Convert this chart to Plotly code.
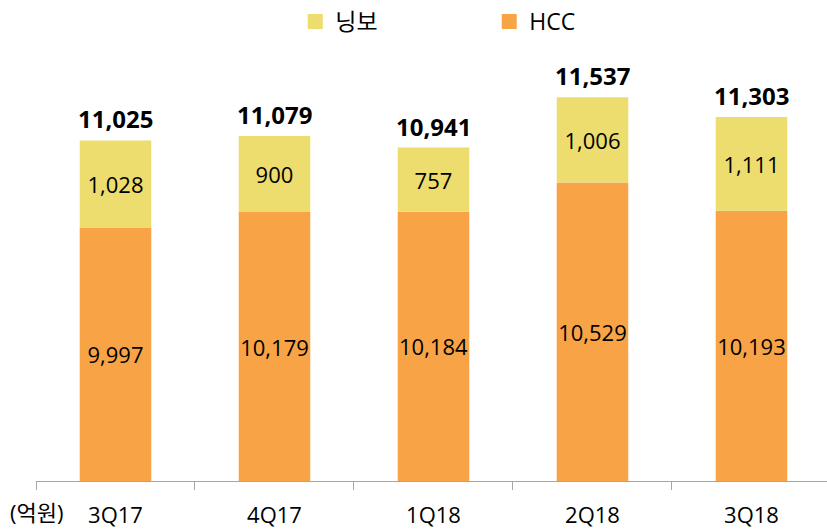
import plotly.graph_objects as go

categories = ["3Q17", "4Q17", "1Q18", "2Q18", "3Q18"]
hcc = [9997, 10179, 10184, 10529, 10193]
ningbo = [1028, 900, 757, 1006, 1111]
totals = [11025, 11079, 10941, 11537, 11303]

ORANGE = "#F8A446"
YELLOW = "#EDDC6E"
FONT = "Open Sans, Noto Sans CJK KR, sans-serif"

fig = go.Figure()
fig.add_trace(go.Bar(
    x=categories, y=[v - 7000 for v in hcc], base=7000, name="HCC", showlegend=False,
    marker=dict(color=ORANGE, line=dict(width=0)),
    text=[f"{v:,}" for v in hcc], textposition="inside", insidetextanchor="middle",
    constraintext="none", textangle=0, textfont=dict(size=22, color="#000", family=FONT),
    width=0.45, hoverinfo="skip"))
fig.add_trace(go.Bar(
    x=categories, y=ningbo, base=hcc, name="닝보", showlegend=False,
    marker=dict(color=YELLOW, line=dict(width=0)),
    text=[f"{v:,}" for v in ningbo], textposition="inside", insidetextanchor="middle",
    constraintext="none", textangle=0, textfont=dict(size=22, color="#000", family=FONT),
    width=0.45, hoverinfo="skip"))

# legend entries with larger square swatches
fig.add_trace(go.Scatter(x=[None], y=[None], mode="markers", name="닝보",
                         marker=dict(symbol="square", size=15, color=YELLOW)))
fig.add_trace(go.Scatter(x=[None], y=[None], mode="markers", name="HCC",
                         marker=dict(symbol="square", size=15, color=ORANGE)))

for c, t in zip(categories, totals):
    fig.add_annotation(x=c, y=t, text=f"<b>{t:,}</b>", showarrow=False,
                       yanchor="bottom", yshift=3,
                       font=dict(size=24, color="#000", family=FONT))

fig.add_annotation(xref="paper", yref="paper", x=-0.036, y=0, xanchor="left",
                   yanchor="top", yshift=-14, text="(억원)", showarrow=False,
                   font=dict(size=22, color="#000", family=FONT))

fig.update_layout(
    width=827, height=532,
    margin=dict(l=36, r=0, t=58, b=51),
    barmode="overlay",
    plot_bgcolor="white", paper_bgcolor="white",
    font=dict(family=FONT, size=22, color="#000"),
    showlegend=True,
    legend=dict(orientation="h", x=0.357, xanchor="left", y=1.0, yanchor="top",
                xref="container", yref="container", traceorder="normal",
                entrywidth=149, font=dict(size=23, family=FONT), itemclick=False),
    xaxis=dict(range=[-0.5, 4.475], showline=True, linecolor="#A6A6A6", linewidth=1,
               ticks="outside", tickson="boundaries", ticklen=8, tickcolor="#A6A6A6",
               showgrid=False, automargin=False, ticklabelstandoff=15,
               tickfont=dict(size=22, family=FONT, color="#000")),
    yaxis=dict(range=[7000, 12000], visible=False, showgrid=False, automargin=False),
)

fig.write_html("out.html", config={"displayModeBar": False},
               post_script="document.body.style.margin='0';")
